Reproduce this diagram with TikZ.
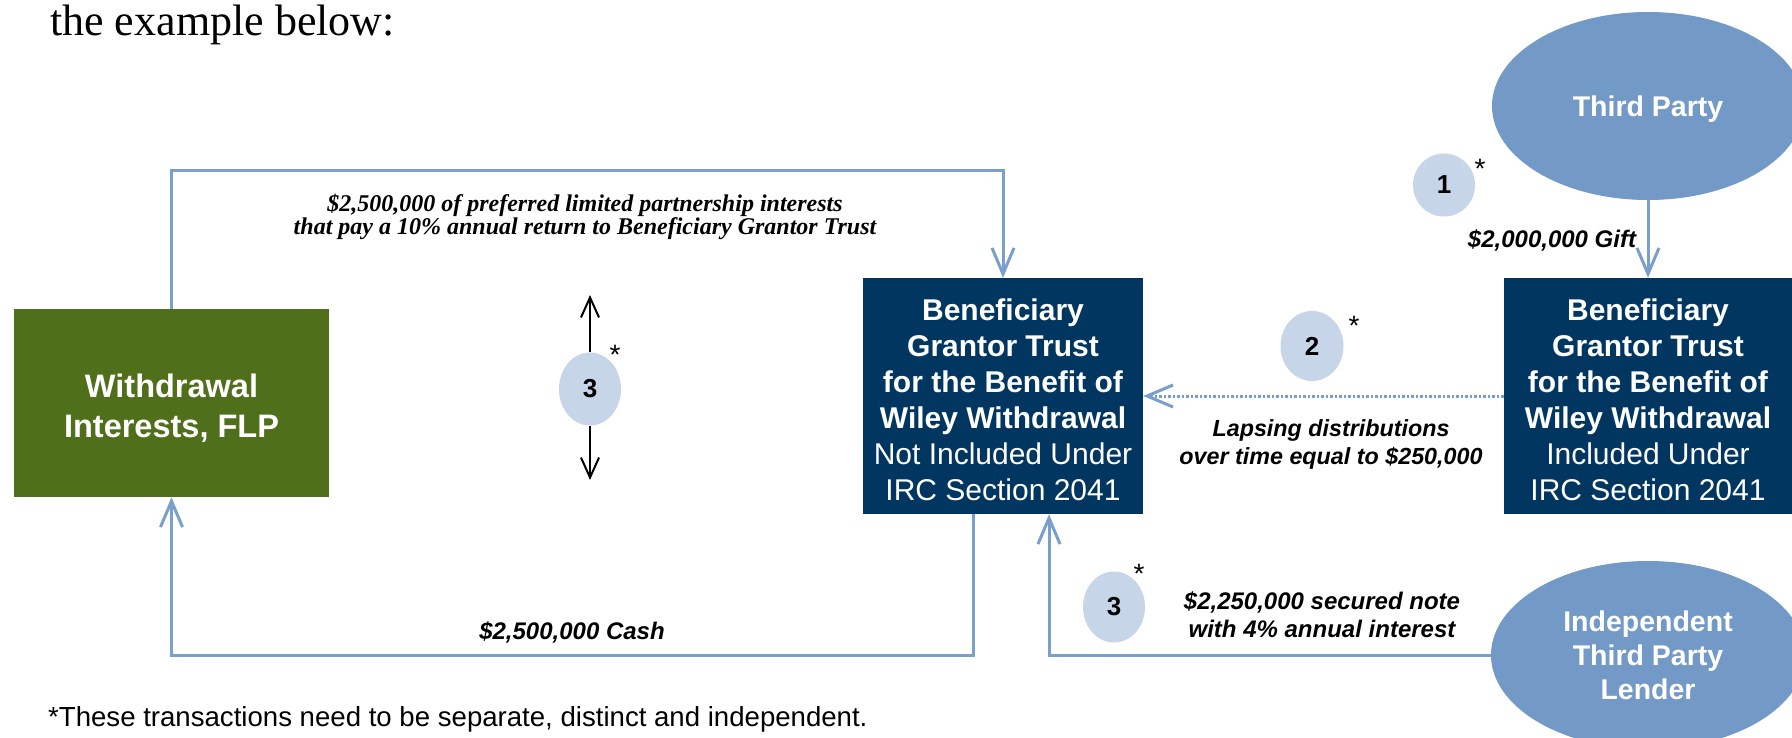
\documentclass[tikz,border=0pt]{standalone}
\usepackage{fontspec}
\setmainfont{Liberation Sans}
\newfontfamily\tnr{Liberation Serif}
\usetikzlibrary{arrows.meta,shapes.geometric}
\definecolor{flpgreen}{HTML}{4F6F1B}
\definecolor{navybox}{HTML}{00365F}
\definecolor{ellblue}{HTML}{7399C6}
\definecolor{circblue}{HTML}{C6D5E8}
\definecolor{lineblue}{HTML}{7B9FCC}
\newcommand\fsz[2]{\fontsize{#1}{#2}\selectfont}
\tikzset{
  conn/.style={draw=lineblue, line width=3pt},
  bluetip/.style={-{Straight Barb[length=26pt,width=22pt]}},
  blacktip/.style={-{Straight Barb[length=20pt,width=18pt]}},
  dotline/.style={draw=lineblue, line width=3pt, dash pattern=on 2.5pt off 2pt},
  trustbox/.style={rectangle, fill=navybox, text=white, align=center, minimum height=236pt, inner sep=0pt, font=\fsz{30}{36}},
  party/.style={ellipse, fill=ellblue, text=white, align=center, inner sep=0pt, font=\bfseries\fsz{28.5}{34}},
  numc/.style={ellipse, fill=circblue, inner sep=0pt, font=\bfseries\fsz{26}{26}},
  asterisk/.style={inner sep=0pt, font=\fsz{28}{28}},
  lbl/.style={align=center, inner sep=0pt, font=\bfseries\itshape\fsz{24}{28}},
}
\begin{document}
\begin{tikzpicture}[x=1pt,y=-1pt]
\useasboundingbox (0,0) rectangle (1792,738);
\clip (0,0) rectangle (1792,738);
\fill[white] (0,0) rectangle (1792,738);

% title and footnote
\node[anchor=base west, inner sep=0pt, font=\tnr\fsz{44}{50}] (title) at (50,36) {the example below:};
\node[anchor=base west, inner sep=0pt, font=\fsz{27.6}{32}] (foot) at (48,726) {*These transactions need to be separate, distinct and independent.};

% main boxes
\node[rectangle, fill=flpgreen, text=white, align=center, minimum width=315pt, minimum height=188pt, inner sep=0pt, font=\bfseries\fsz{32.5}{40}] (flp) at (171.5,403) {};
\node[text=white, align=center, inner sep=0pt, font=\bfseries\fsz{32.5}{40}] (flptext) at (171.5,408) {Withdrawal\\Interests, FLP};
\node[trustbox, minimum width=280pt] (ctr) at (1003,396) {};
\node[text=white, align=center, inner sep=0pt, font=\fsz{30}{36}] (ctrtext) at (1003,400) {\textbf{Beneficiary}\\\textbf{Grantor Trust}\\\textbf{for the Benefit of}\\\textbf{Wiley Withdrawal}\\Not Included Under\\IRC Section 2041};
\node[trustbox, minimum width=288pt] (rbox) at (1648,396) {};
\node[text=white, align=center, inner sep=0pt, font=\fsz{30}{36}] (rboxtext) at (1648,400) {\textbf{Beneficiary}\\\textbf{Grantor Trust}\\\textbf{for the Benefit of}\\\textbf{Wiley Withdrawal}\\Included Under\\IRC Section 2041};
\node[party, minimum width=312pt, minimum height=188pt] (tp) at (1648,106) {};
\node[text=white, inner sep=0pt, font=\bfseries\fsz{28.5}{34}] (tptext) at (1648,109) {Third Party};
\node[party, minimum width=314pt, minimum height=188pt] (lender) at (1648,655) {Independent\\Third Party\\Lender};

% connectors
\coordinate (topy) at (0,171);
\coordinate (boty) at (0,655);
\coordinate (cs) at ([xshift=-30pt]ctr.south);
\coordinate (ls) at ([xshift=46pt]ctr.south);
\draw[conn,bluetip] (flp.north) -- (flp.north |- topy) -| (ctr.north);
\draw[conn,bluetip] (cs) -- (cs |- boty) -| (flp.south);
\draw[conn,bluetip] (lender.west) -| (ls);
\draw[conn,bluetip] (tp.south) -- (rbox.north);
\draw[dotline,bluetip] (rbox.west) -- (ctr.east);

% numbered circles
\node[numc, minimum width=62pt, minimum height=73pt] (c3a) at (590,389) {3};
\node[numc, minimum width=63pt, minimum height=70pt] (c2) at (1312,346) {2};
\node[numc, minimum width=62pt, minimum height=63pt] (c1) at (1444,185) {1};
\node[numc, minimum width=62pt, minimum height=71pt] (c3b) at (1114,607) {3};
\node[asterisk] (s3a) at (615,355) {*};
\node[asterisk] (s2) at (1354,326) {*};
\node[asterisk] (s1) at (1480,169) {*};
\node[asterisk] (s3b) at (1139,574) {*};

% black double arrow
\coordinate (a3top) at (590,295);
\coordinate (a3bot) at (590,480);
\draw[line width=2pt, blacktip] (c3a.north) -- (a3top);
\draw[line width=2pt, blacktip] (c3a.south) -- (a3bot);

% labels
\node[inner sep=0pt, align=center, font=\tnr\bfseries\itshape\fsz{24}{21.5}] (toplbl) at (585,217) {\$2,500,000 of preferred limited partnership interests\\that pay a 10\% annual return to Beneficiary Grantor Trust};
\node[lbl] (gift) at (1552,240) {\$2,000,000 Gift};
\node[lbl, font=\bfseries\itshape\fsz{23.3}{28}] (laps) at (1331,444) {Lapsing distributions\\over time equal to \$250,000};
\node[lbl] (cash) at (572,632) {\$2,500,000 Cash};
\node[lbl] (note) at (1322,615) {\$2,250,000 secured note\\with 4\% annual interest};
\end{tikzpicture}
\end{document}
